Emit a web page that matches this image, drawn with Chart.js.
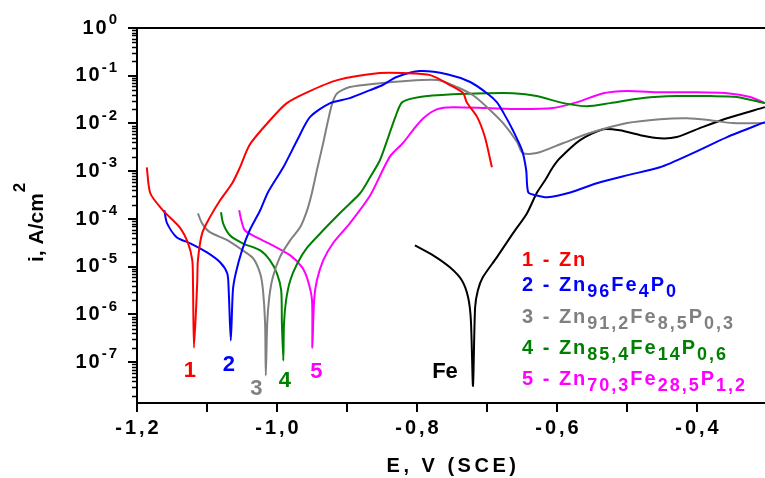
<!DOCTYPE html>
<html>
<head>
<meta charset="utf-8">
<script src="https://cdn.jsdelivr.net/npm/chart.js@4"></script>
<style>
  html, body { margin: 0; padding: 0; background: #fff; overflow: hidden; }
  canvas { display: block; }
</style>
</head>
<body>
<canvas id="polar" width="770" height="478"></canvas>
<script>
// axis ticks
const eTicks = [-1.2, -1.1, -1.0, -0.9, -0.8, -0.7, -0.6, -0.5, -0.4, -0.3];
const eLabelValues = [-1.2, -1.0, -0.8, -0.6, -0.4];
const eLabels = ['-1,2', '-1,0', '-0,8', '-0,6', '-0,4'];
const iDecades = [0, -1, -2, -3, -4, -5, -6, -7];

// 1 - Zn
const znE = [-1.186, -1.181, -1.163, -1.139, -1.127, -1.121, -1.120, -1.1186, -1.114, -1.113, -1.107, -1.096, -1.081, -1.064, -1.053, -1.039, -1.010, -0.986, -0.957, -0.914, -0.853, -0.820, -0.781, -0.753, -0.734, -0.729, -0.714, -0.703, -0.693];
const znI = [1.21e-3, 3.46e-4, 1.52e-4, 6.7e-5, 3.1e-5, 1.36e-5, 4.5e-6, 2.0e-7, 4.5e-6, 1.36e-5, 5.0e-5, 1.08e-4, 2.5e-4, 5.6e-4, 1.2e-3, 3.6e-3, 1.17e-2, 2.67e-2, 4.5e-2, 8.1e-2, 0.114, 0.114, 0.103, 0.064, 0.043, 0.028, 0.0136, 5.2e-3, 1.21e-3];

// 2 - Zn96Fe4P0
const s2E = [-1.161, -1.157, -1.143, -1.124, -1.100, -1.081, -1.071, -1.069, -1.066, -1.063, -1.059, -1.050, -1.039, -1.024, -1.013, -0.991, -0.971, -0.953, -0.924, -0.896, -0.867, -0.849, -0.829, -0.796, -0.757, -0.724, -0.700, -0.686, -0.677, -0.663, -0.650, -0.644, -0.641, -0.629, -0.614, -0.581, -0.543, -0.500, -0.453, -0.406, -0.357, -0.303];
const s2I = [1.52e-4, 8.1e-5, 4.1e-5, 3.1e-5, 2.0e-5, 1.23e-5, 7.2e-6, 3.2e-6, 2.85e-7, 3.2e-6, 7.2e-6, 2.2e-5, 5.8e-5, 1.52e-4, 3.6e-4, 1.21e-3, 4.5e-3, 1.36e-2, 2.67e-2, 3.4e-2, 5.0e-2, 6.4e-2, 9.4e-2, 0.125, 0.108, 0.074, 0.043, 0.028, 0.0173, 7.2e-3, 2.76e-3, 1.05e-3, 3.6e-4, 3.1e-4, 2.85e-4, 3.6e-4, 5.6e-4, 8.2e-4, 1.21e-3, 2.4e-3, 5.2e-3, 1.07e-2];

// 3 - Zn91,2Fe8,5P0,3
const s3E = [-1.113, -1.107, -1.096, -1.071, -1.049, -1.034, -1.024, -1.020, -1.017, -1.016, -1.014, -1.011, -1.006, -0.996, -0.981, -0.967, -0.957, -0.950, -0.943, -0.934, -0.927, -0.921, -0.914, -0.896, -0.853, -0.820, -0.771, -0.743, -0.720, -0.700, -0.677, -0.657, -0.649, -0.629, -0.591, -0.553, -0.500, -0.453, -0.414, -0.381, -0.349, -0.303];
const s3I = [1.31e-4, 8.1e-5, 5.3e-5, 3.6e-5, 2.2e-5, 1.5e-5, 7.2e-6, 3.2e-6, 6.5e-7, 5.3e-8, 6.5e-7, 2.3e-6, 6.0e-6, 1.57e-5, 3.6e-5, 6.7e-5, 1.52e-4, 3.6e-4, 1.05e-3, 3.9e-3, 1.17e-2, 2.67e-2, 4.3e-2, 5.8e-2, 7.0e-2, 7.7e-2, 8.1e-2, 5.8e-2, 3.9e-2, 2.2e-2, 1.02e-2, 4.1e-3, 2.4e-3, 2.4e-3, 3.9e-3, 6.3e-3, 1.02e-2, 1.23e-2, 1.29e-2, 1.17e-2, 1.02e-2, 1.02e-2];

// 4 - Zn85,4Fe14P0,6
const s4E = [-1.080, -1.077, -1.067, -1.049, -1.024, -1.010, -1.000, -0.994, -0.993, -0.991, -0.990, -0.987, -0.981, -0.971, -0.957, -0.934, -0.906, -0.881, -0.867, -0.853, -0.841, -0.831, -0.821, -0.796, -0.749, -0.700, -0.663, -0.629, -0.591, -0.557, -0.524, -0.477, -0.429, -0.381, -0.343, -0.303];
const s4I = [1.38e-4, 8.1e-5, 4.5e-5, 3.1e-5, 2.2e-5, 1.36e-5, 7.2e-6, 3.2e-6, 6.5e-7, 1.08e-7, 6.5e-7, 2.0e-6, 5.2e-6, 1.17e-5, 2.5e-5, 5.8e-5, 1.52e-4, 3.5e-4, 7.5e-4, 1.7e-3, 5.2e-3, 1.36e-2, 2.8e-2, 3.6e-2, 4.1e-2, 4.3e-2, 4.3e-2, 3.75e-2, 2.67e-2, 2.3e-2, 2.67e-2, 3.4e-2, 3.75e-2, 3.75e-2, 3.6e-2, 2.67e-2];

// 5 - Zn70,3Fe28,5P1,2
const s5E = [-1.054, -1.051, -1.046, -1.029, -1.006, -0.981, -0.964, -0.956, -0.950, -0.9495, -0.947, -0.943, -0.934, -0.920, -0.896, -0.867, -0.839, -0.820, -0.806, -0.791, -0.771, -0.749, -0.700, -0.653, -0.606, -0.571, -0.534, -0.500, -0.453, -0.406, -0.357, -0.324, -0.303];
const s5I = [1.52e-4, 9.4e-5, 5.8e-5, 4.1e-5, 2.8e-5, 1.73e-5, 9.7e-6, 5.2e-6, 2.0e-6, 2.0e-7, 2.0e-6, 5.2e-6, 1.36e-5, 3.1e-5, 8.1e-5, 3.1e-4, 2.0e-3, 3.9e-3, 7.2e-3, 1.29e-2, 2.0e-2, 2.2e-2, 2.1e-2, 2.0e-2, 2.1e-2, 2.8e-2, 4.3e-2, 4.8e-2, 4.5e-2, 4.5e-2, 4.3e-2, 3.6e-2, 2.67e-2];

// Fe
const feE = [-0.803, -0.777, -0.753, -0.736, -0.727, -0.723, -0.720, -0.717, -0.713, -0.706, -0.686, -0.663, -0.643, -0.629, -0.617, -0.606, -0.596, -0.567, -0.534, -0.510, -0.481, -0.453, -0.429, -0.396, -0.357, -0.303];
const feI = [2.8e-5, 1.73e-5, 9.7e-6, 5.2e-6, 2.3e-6, 7.5e-7, 3.2e-8, 1.4e-6, 3.2e-6, 6.0e-6, 1.57e-5, 5.0e-5, 1.31e-4, 3.5e-4, 6.5e-4, 1.21e-3, 1.87e-3, 4.5e-3, 7.6e-3, 7.2e-3, 5.7e-3, 4.9e-3, 5.2e-3, 8.0e-3, 1.29e-2, 2.2e-2];

// curve labels: text, E, i
const curveLabels = [['1', -1.1243, 6.7e-8], ['2', -1.0686, 8.9e-8], ['3', -1.0293, 2.8e-8], ['4', -0.9886, 4.0e-8], ['5', -0.9436, 6.4e-8], ['Fe', -0.760, 6.2e-8]];

const legendItems = [
  ['1 - Zn'],
  ['2 - Zn', '96', 'Fe', '4', 'P', '0'],
  ['3 - Zn', '91,2', 'Fe', '8,5', 'P', '0,3'],
  ['4 - Zn', '85,4', 'Fe', '14', 'P', '0,6'],
  ['5 - Zn', '70,3', 'Fe', '28,5', 'P', '1,2']
];
const colors = ['#ff0000', '#0000ff', '#808080', '#008000', '#ff00ff', '#000000'];

const FONT = 'Arial, "Liberation Sans", sans-serif';

function pts(E, I) {
  return E.map((e, k) => ({ x: e, y: I[k] }));
}

const series = [[znE, znI], [s2E, s2I], [s3E, s3I], [s4E, s4I], [s5E, s5I], [feE, feI]];

// axes, labels and annotations drawn on top of the chart area
const decor = {
  id: 'decor',
  afterDraw(chart) {
    const ctx = chart.ctx;
    const a = chart.chartArea;
    const xs = chart.scales.x, ys = chart.scales.y;
    ctx.save();
    ctx.strokeStyle = '#000';
    ctx.fillStyle = '#000';

    // frame
    ctx.lineWidth = 2;
    ctx.beginPath();
    ctx.moveTo(a.right + 2, a.top); ctx.lineTo(a.left, a.top);
    ctx.lineTo(a.left, a.bottom); ctx.lineTo(a.right + 2, a.bottom);
    ctx.stroke();

    // x ticks
    eTicks.forEach(v => {
      const px = Math.round(xs.getPixelForValue(v));
      ctx.beginPath(); ctx.moveTo(px, a.bottom); ctx.lineTo(px, a.bottom + 9); ctx.stroke();
    });
    // y ticks
    iDecades.forEach(d => {
      const py = Math.round(ys.getPixelForValue(Math.pow(10, d)));
      ctx.lineWidth = 2;
      ctx.beginPath(); ctx.moveTo(a.left - 9, py); ctx.lineTo(a.left, py); ctx.stroke();
    });
    ctx.lineWidth = 1.5;
    for (let d = -8; d < 0; d++) {
      for (let k = 2; k <= 9; k++) {
        const v = k * Math.pow(10, d);
        if (v < ys.min || v > ys.max) continue;
        const py = Math.round(ys.getPixelForValue(v)) + 0.5;
        ctx.beginPath(); ctx.moveTo(a.left - 5, py); ctx.lineTo(a.left, py); ctx.stroke();
      }
    }

    // x tick labels
    ctx.font = 'bold 20px ' + FONT;
    ctx.letterSpacing = '3px';
    ctx.textAlign = 'center';
    ctx.textBaseline = 'middle';
    eLabelValues.forEach((v, k) => {
      ctx.fillText(eLabels[k], xs.getPixelForValue(v) + 1.5, a.bottom + 25);
    });

    // y tick labels 10^n
    iDecades.forEach(d => {
      const py = ys.getPixelForValue(Math.pow(10, d));
      ctx.letterSpacing = '2px';
      ctx.font = 'bold 15px ' + FONT;
      ctx.textAlign = 'right';
      const sup = String(d);
      const supW = ctx.measureText(sup).width;
      ctx.fillText(sup, 119, py - 8);
      ctx.font = 'bold 20px ' + FONT;
      ctx.letterSpacing = '2px';
      ctx.fillText('10', 119 - supW, py);
    });

    // x title
    ctx.font = 'bold 20px ' + FONT;
    ctx.letterSpacing = '3.5px';
    ctx.textAlign = 'center';
    ctx.fillText('E, V (SCE)', 453, 466);

    // y title
    ctx.save();
    ctx.translate(43, 262);
    ctx.rotate(-Math.PI / 2);
    ctx.letterSpacing = '0px';
    ctx.textAlign = 'left';
    ctx.textBaseline = 'alphabetic';
    ctx.font = 'bold 21px ' + FONT;
    const ttl = 'i, A/cm';
    ctx.fillText(ttl, 0, 0);
    const tw = ctx.measureText(ttl).width;
    ctx.font = 'bold 17px ' + FONT;
    ctx.fillText('2', tw + 1, -18);
    ctx.restore();

    // curve numbers
    ctx.font = 'bold 22px ' + FONT;
    ctx.letterSpacing = '0px';
    ctx.textAlign = 'center';
    ctx.textBaseline = 'middle';
    curveLabels.forEach((m, k) => {
      ctx.fillStyle = colors[k];
      ctx.fillText(m[0], xs.getPixelForValue(m[1]), ys.getPixelForValue(m[2]));
    });

    // legend
    const rows = [260, 285, 317, 348, 379];
    ctx.textAlign = 'left';
    ctx.letterSpacing = '2px';
    legendItems.forEach((parts, r) => {
      let x = 522;
      ctx.fillStyle = colors[r];
      parts.forEach((t, k) => {
        const sub = k % 2 === 1;
        ctx.font = sub ? 'bold 18px ' + FONT : 'bold 20px ' + FONT;
        ctx.fillText(t, x, rows[r] + (sub ? 7 : 0));
        x += ctx.measureText(t).width;
      });
    });

    ctx.restore();
  }
};

new Chart(document.getElementById('polar'), {
  type: 'line',
  data: {
    datasets: series.map((s, k) => ({
      data: pts(s[0], s[1]),
      borderColor: colors[k],
      borderWidth: 2,
      pointRadius: 0,
      tension: 0.25,
      fill: false
    }))
  },
  options: {
    responsive: false,
    animation: false,
    layout: { padding: { left: 137, top: 28, right: 3, bottom: 75 } },
    plugins: { legend: { display: false }, tooltip: { enabled: false } },
    scales: {
      x: { type: 'linear', min: -1.2, max: -0.3, display: false },
      y: { type: 'logarithmic', min: 1.4e-8, max: 1, display: false }
    }
  },
  plugins: [decor]
});
</script>
</body>
</html>
